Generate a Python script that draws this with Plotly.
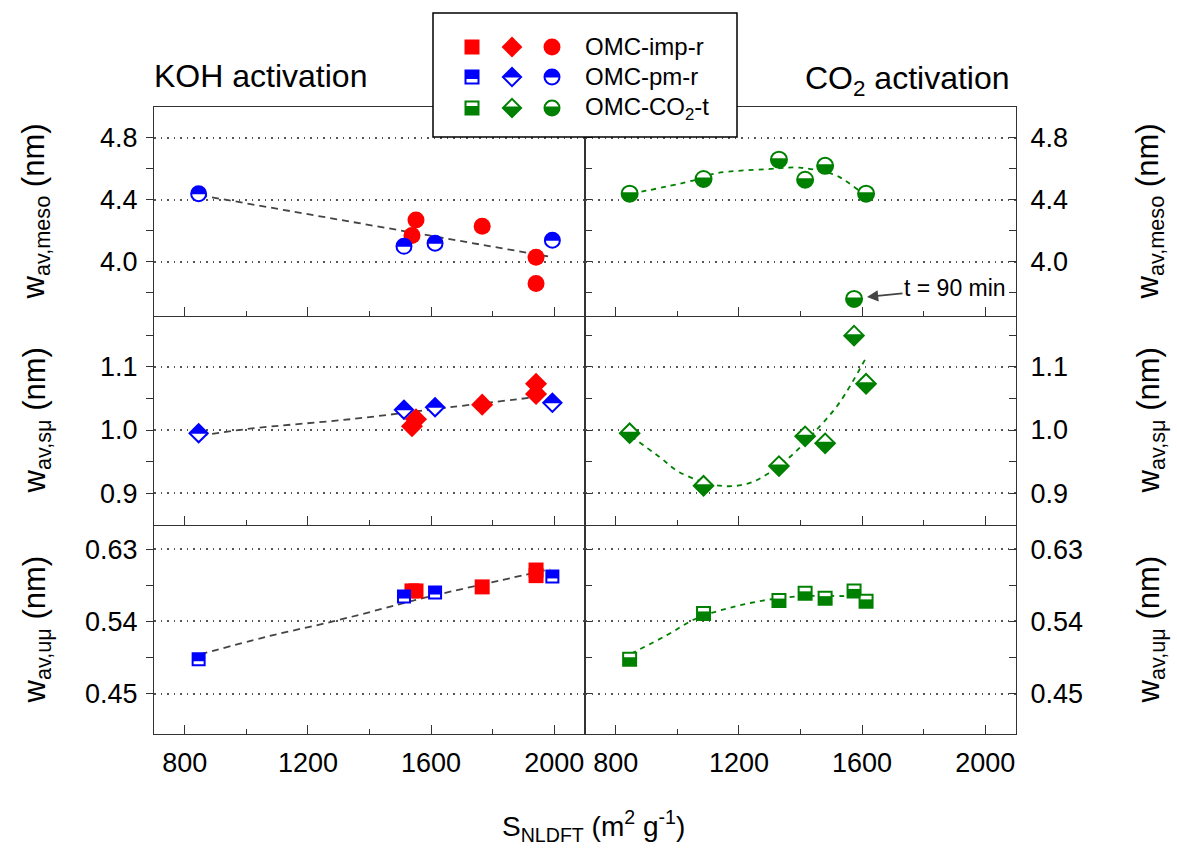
import plotly.graph_objects as go

# ---------------- data ----------------
# KOH activation: OMC-imp-r (red, filled) and OMC-pm-r (blue, half-filled)
imp_x = [1538, 1551, 1766, 1941, 1941]
imp_meso = [4.17, 4.27, 4.23, 4.03, 3.86]
imp_smu = [1.006, 1.017, 1.040, 1.057, 1.073]
imp_umu = [0.578, 0.578, 0.583, 0.597, 0.604]

pm_x = [845, 1512, 1613, 1994]
pm_meso = [4.44, 4.10, 4.12, 4.14]
pm_smu = [0.995, 1.032, 1.036, 1.043]
pm_umu = [0.493, 0.571, 0.576, 0.596]

# CO2 activation: OMC-CO2-t (green, half-filled)
co2_x = [845, 1085, 1330, 1415, 1480, 1574, 1613]
co2_meso = [4.44, 4.535, 4.66, 4.53, 4.62, 3.76, 4.44]
co2_smu = [0.995, 0.912, 0.943, 0.990, 0.979, 1.149, 1.073]
co2_umu = [0.493, 0.550, 0.566, 0.575, 0.569, 0.578, 0.565]

# trend lines
koh_meso_fit_x = [850, 1980]
koh_meso_fit_y = [4.43, 4.035]
koh_smu_fit_x = [850, 1011, 1337, 1662, 1940]
koh_smu_fit_y = [0.991, 1.002, 1.017, 1.036, 1.052]
koh_umu_fit_x = [850, 1066, 1281, 1444, 1532, 1662, 1824, 1987]
koh_umu_fit_y = [0.499, 0.521, 0.540, 0.556, 0.565, 0.577, 0.591, 0.605]

co2_meso_fit_x = [850, 1051, 1127, 1290, 1398, 1512, 1550, 1590]
co2_meso_fit_y = [4.44, 4.525, 4.572, 4.598, 4.608, 4.561, 4.518, 4.46]
co2_smu_fit_x = [850, 943, 1008, 1138, 1226, 1291, 1376, 1463, 1528, 1616]
co2_smu_fit_y = [0.99, 0.957, 0.933, 0.912, 0.915, 0.930, 0.962, 1.006, 1.044, 1.117]
co2_umu_fit_x = [850, 966, 1063, 1171, 1278, 1389, 1496, 1561]
co2_umu_fit_y = [0.500, 0.523, 0.544, 0.557, 0.566, 0.571, 0.572, 0.571]

x_ticks = [800, 1200, 1600, 2000]
x_minor = [1000, 1400, 1800]
y_ranges = [[3.65, 5.0], [0.85, 1.18], [0.40, 0.66]]
y_ticks = [[4.0, 4.4, 4.8], [0.9, 1.0, 1.1], [0.45, 0.54, 0.63]]
y_minor = [[3.8, 4.2, 4.6], [0.95, 1.05, 1.15], [0.495, 0.585]]
y_fmt = [".1f", ".1f", ".2f"]
y_titles = ["w<sub>av,meso</sub> (nm)", "w<sub>av,sμ</sub> (nm)", "w<sub>av,uμ</sub> (nm)"]
legend_labels = ["OMC-imp-r", "OMC-pm-r", "OMC-CO<sub>2</sub>-t"]

# ---------------- style ----------------
FONT = "Arial, 'Liberation Sans', sans-serif"
RED, BLUE, GREEN = "#FF0000", "#0000FF", "#008000"
AX = "#333333"
W, H = 1177, 850
ML, MR, MT, MB = 154, 161, 107, 116
PW, PH = W - ML - MR, H - MT - MB
K = 0.5523


def pxx(p):
    return (p - ML) / PW


def pxy(p):
    return (H - MB - p) / PH


def half_path(kind, size, part):
    """Filled part of a half-filled marker, in pixels relative to the anchor (y up)."""
    sgn = 1 if part == "top" else -1
    off = -sgn * (0.5 if part == "top" else 1.5)   # fill slightly past the centre
    if kind == "circle":
        r = size / 2
        return (f"M{-r},{off} L{-r},0 C{-r},{sgn*K*r} {-K*r},{sgn*r} 0,{sgn*r} "
                f"C{K*r},{sgn*r} {r},{sgn*K*r} {r},0 L{r},{off} Z")
    if kind == "diamond":
        d = 1.3 * size / 2
        a = abs(off)
        return (f"M{-(d - a)},{off} L{-d},0 L0,{sgn*d} L{d},0 L{d - a},{off} Z")
    s = size / 2
    o = -sgn * 2
    return f"M{-s},{o} L{s},{o} L{s},{sgn*s} L{-s},{sgn*s} Z"


def full_path(kind, size):
    d = 1.3 * size / 2
    return f"M{-d},0 L0,{d} L{d},0 L0,{-d} Z"


def anchored(xref, yref, xa, ya):
    return dict(xref=xref, yref=yref, xsizemode="pixel", ysizemode="pixel",
                xanchor=xa, yanchor=ya, layer="above")


shapes = []
annotations = []
fig = go.Figure()

panel_data = [
    (0, 0, koh_meso_fit_x, koh_meso_fit_y, "#444444",
     [("circle", RED, "full", imp_x, imp_meso, 17), ("circle", BLUE, "top", pm_x, pm_meso, 15)]),
    (0, 1, co2_meso_fit_x, co2_meso_fit_y, GREEN,
     [("circle", GREEN, "bottom", co2_x, co2_meso, 16)]),
    (1, 0, koh_smu_fit_x, koh_smu_fit_y, "#444444",
     [("diamond", BLUE, "top", pm_x, pm_smu, 14), ("diamond", RED, "full", imp_x, imp_smu, 17)]),
    (1, 1, co2_smu_fit_x, co2_smu_fit_y, GREEN,
     [("diamond", GREEN, "bottom", co2_x, co2_smu, 15)]),
    (2, 0, koh_umu_fit_x, koh_umu_fit_y, "#444444",
     [("square", RED, "full", imp_x, imp_umu, 15), ("square", BLUE, "top", pm_x, pm_umu, 12)]),
    (2, 1, co2_umu_fit_x, co2_umu_fit_y, GREEN,
     [("square", GREEN, "bottom", co2_x, co2_umu, 13)]),
]

for row, col, fx, fy, fcol, series in panel_data:
    idx = row * 2 + col + 1
    xa = "x" if idx == 1 else f"x{idx}"
    ya = "y" if idx == 1 else f"y{idx}"
    fig.add_trace(go.Scatter(
        x=fx, y=fy, mode="lines", xaxis=xa, yaxis=ya, showlegend=False,
        line=dict(color=fcol, width=1.8, dash="7px,5px" if col == 0 else "5px,5px",
                  shape="spline" if len(fx) > 2 else "linear"),
        hoverinfo="skip"))
    for kind, color, part, xs, ys, size in series:
        if part == "full":
            mk = dict(symbol=kind, size=size, color=color, line=dict(width=0))
        else:
            mk = dict(symbol=kind, size=size, color="white", line=dict(color=color, width=2))
        fig.add_trace(go.Scatter(x=xs, y=ys, mode="markers", xaxis=xa, yaxis=ya,
                                 showlegend=False, marker=mk))
        if part != "full":
            for xv, yv in zip(xs, ys):
                sh = anchored(xa, ya, xv, yv)
                sh.update(type="path", path=half_path(kind, size, part),
                          fillcolor=color, line=dict(width=0))
                shapes.append(sh)

layout_axes = {}
for row in range(3):
    for col in range(2):
        idx = row * 2 + col + 1
        xname = "xaxis" if idx == 1 else f"xaxis{idx}"
        yname = "yaxis" if idx == 1 else f"yaxis{idx}"
        ydom = [(2 - row) / 3, (3 - row) / 3]
        xdom = [0, 0.5] if col == 0 else [0.5, 1]
        layout_axes[xname] = dict(
            domain=xdom, range=[700, 2100], anchor="y" if idx == 1 else f"y{idx}",
            tickvals=x_ticks, ticks="inside", ticklen=9, tickwidth=1.3, tickcolor=AX,
            showline=True, linecolor=AX, linewidth=1.3, mirror=(row == 0),
            showgrid=False, zeroline=False, showticklabels=(row == 2),
            ticklabelstandoff=4,
            tickfont=dict(size=27, family=FONT, color="black"),
            minor=dict(tickvals=x_minor, ticks="inside", ticklen=5, tickwidth=1.3,
                       tickcolor=AX, showgrid=False))
        layout_axes[yname] = dict(
            domain=ydom, range=y_ranges[row], anchor="x" if idx == 1 else f"x{idx}",
            side="left" if col == 0 else "right",
            tickvals=y_ticks[row], tickformat=y_fmt[row],
            ticks="outside" if col == 0 else "inside", ticklen=7, tickwidth=1.3,
            tickcolor=AX, showline=True, linecolor=AX, linewidth=1.3,
            mirror=True if col == 0 else "ticks",
            showgrid=True, gridcolor="#555555", gridwidth=1.5, griddash="1.5px,5px",
            zeroline=False,
            ticklabelstandoff=3 if col == 0 else 8,
            tickfont=dict(size=27, family=FONT, color="black"),
            minor=dict(tickvals=y_minor[row], ticks="outside" if col == 0 else "inside",
                       ticklen=7, tickwidth=1.3, tickcolor=AX, showgrid=False))

# y titles
for row in range(3):
    yc = pxy(MT + PH * (row + 0.5) / 3)
    for xpix in (36, 1150):
        annotations.append(dict(
            text=y_titles[row], xref="paper", yref="paper", x=pxx(xpix), y=yc,
            xanchor="center", yanchor="middle", textangle=-90, showarrow=False,
            font=dict(size=31, family=FONT, color="black")))

# x title
annotations.append(dict(
    text="S<sub>NLDFT</sub> (m<sup>2</sup> g<sup>-1</sup>)", xref="paper", yref="paper",
    x=pxx(593), y=pxy(826), xanchor="center", yanchor="middle", showarrow=False,
    font=dict(size=28, family=FONT, color="black")))

# panel headings
annotations.append(dict(
    text="KOH activation", xref="paper", yref="paper", x=pxx(152), y=pxy(76),
    xanchor="left", yanchor="middle", showarrow=False,
    font=dict(size=32, family=FONT, color="black")))
annotations.append(dict(
    text="CO<sub>2</sub> activation", xref="paper", yref="paper", x=pxx(1012), y=pxy(80),
    xanchor="right", yanchor="middle", showarrow=False,
    font=dict(size=32, family=FONT, color="black")))

# t = 90 min
annotations.append(dict(
    text="t = 90 min", xref="x2", yref="y2", x=1616, y=3.773, ax=88, ay=-9,
    showarrow=True, arrowhead=2, arrowsize=1.4, arrowwidth=1.6, arrowcolor="#444444",
    font=dict(size=23, family=FONT, color="black")))

# legend box
shapes.append(dict(type="rect", xref="paper", yref="paper",
                   x0=pxx(433), x1=pxx(737), y0=pxy(137), y1=pxy(13),
                   fillcolor="white", line=dict(color="black", width=1.5), layer="above"))
legend_rows = [(RED, "full"), (BLUE, "top"), (GREEN, "bottom")]
legend_y = [47, 77, 108]
legend_xs = [472, 512, 552]
legend_kinds = [("square", 15), ("diamond", 16), ("circle", 17)]
for (color, part), ly, lab in zip(legend_rows, legend_y, legend_labels):
    for (kind, size), lx in zip(legend_kinds, legend_xs):
        base = anchored("paper", "paper", pxx(lx), pxy(ly))
        if part == "full":
            sz = size
            fill, lcol, lw = color, color, 0
        else:
            sz = size - 2
            fill, lcol, lw = "white", color, 2
        if kind == "diamond":
            base.update(type="path", path=full_path(kind, sz))
        else:
            base.update(type="rect" if kind == "square" else "circle",
                        x0=-sz / 2, x1=sz / 2, y0=-sz / 2, y1=sz / 2)
        base.update(fillcolor=fill, line=dict(color=lcol, width=lw))
        shapes.append(base)
        if part != "full":
            hs = anchored("paper", "paper", pxx(lx), pxy(ly))
            hs.update(type="path", path=half_path(kind, sz, part),
                      fillcolor=color, line=dict(width=0))
            shapes.append(hs)
    annotations.append(dict(
        text=lab, xref="paper", yref="paper", x=pxx(583), y=pxy(ly),
        xanchor="left", yanchor="middle", showarrow=False,
        font=dict(size=24, family=FONT, color="black")))

fig.update_layout(
    width=W, height=H, margin=dict(l=ML, r=MR, t=MT, b=MB),
    paper_bgcolor="white", plot_bgcolor="white", showlegend=False,
    font=dict(family=FONT, color="black"),
    shapes=shapes, annotations=annotations, **layout_axes)

fig.write_html("out.html")
